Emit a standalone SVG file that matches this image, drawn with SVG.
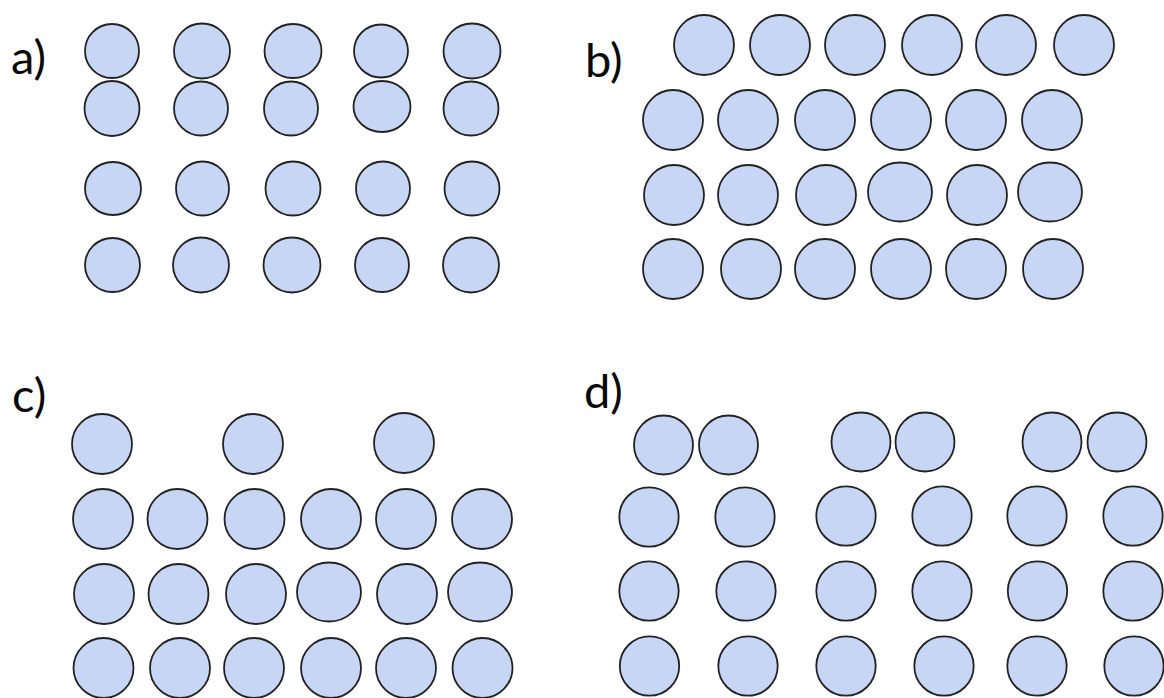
<svg xmlns="http://www.w3.org/2000/svg" width="1164" height="698" viewBox="0 0 1164 698">
<style>
.c{fill:#C8D6F6;stroke:#222;stroke-width:1.8}
.lbl{font-family:Lato,"Open Sans","Liberation Sans",sans-serif;font-size:47px;fill:#0a0a0a}
</style>
<rect width="1164" height="698" fill="#fff"/>
<g id="panel-a">
<text class="lbl" x="11" y="74">a)</text>
<ellipse class="c" cx="112" cy="51" rx="27" ry="27"/>
<ellipse class="c" cx="202" cy="51" rx="28" ry="27.5"/>
<ellipse class="c" cx="293" cy="51" rx="28.5" ry="27"/>
<ellipse class="c" cx="381" cy="51" rx="27" ry="26.5"/>
<ellipse class="c" cx="472" cy="51" rx="28.5" ry="27.5"/>
<ellipse class="c" cx="112" cy="108.5" rx="27.5" ry="27.5"/>
<ellipse class="c" cx="201" cy="108.5" rx="27" ry="27"/>
<ellipse class="c" cx="291" cy="108.5" rx="27" ry="27"/>
<ellipse class="c" cx="382" cy="106.5" rx="28.5" ry="25.5"/>
<ellipse class="c" cx="471" cy="108.5" rx="27.5" ry="27"/>
<ellipse class="c" cx="113" cy="188.5" rx="28" ry="26.5"/>
<ellipse class="c" cx="202.5" cy="188.5" rx="26.5" ry="27"/>
<ellipse class="c" cx="293" cy="188.5" rx="27.5" ry="27"/>
<ellipse class="c" cx="383" cy="188.5" rx="27" ry="27"/>
<ellipse class="c" cx="472" cy="188.5" rx="27.5" ry="27"/>
<ellipse class="c" cx="112.5" cy="265" rx="27.5" ry="27"/>
<ellipse class="c" cx="201" cy="265" rx="28" ry="27.5"/>
<ellipse class="c" cx="292" cy="265" rx="28.5" ry="27.5"/>
<ellipse class="c" cx="382" cy="265" rx="27" ry="27"/>
<ellipse class="c" cx="471" cy="265" rx="28" ry="27.5"/>
</g>
<g id="panel-b">
<text class="lbl" x="585" y="77">b)</text>
<circle class="c" cx="704" cy="45" r="30"/>
<circle class="c" cx="780" cy="45" r="30"/>
<circle class="c" cx="855" cy="45" r="30"/>
<circle class="c" cx="932" cy="45" r="30"/>
<circle class="c" cx="1006" cy="45" r="30"/>
<circle class="c" cx="1084" cy="45" r="30"/>
<circle class="c" cx="673" cy="120" r="30"/>
<circle class="c" cx="748" cy="120" r="30"/>
<circle class="c" cx="825" cy="120" r="30"/>
<circle class="c" cx="901" cy="120" r="30"/>
<circle class="c" cx="976" cy="120" r="30"/>
<circle class="c" cx="1052" cy="120" r="30"/>
<circle class="c" cx="674" cy="195" r="30"/>
<circle class="c" cx="748" cy="195" r="30"/>
<circle class="c" cx="826" cy="195" r="30"/>
<ellipse class="c" cx="900" cy="192" rx="32" ry="29.5"/>
<circle class="c" cx="977" cy="195" r="30"/>
<ellipse class="c" cx="1050" cy="192" rx="32" ry="29.5"/>
<circle class="c" cx="673" cy="269" r="30"/>
<circle class="c" cx="751" cy="269" r="30"/>
<circle class="c" cx="825" cy="269" r="30"/>
<circle class="c" cx="901" cy="269" r="30"/>
<circle class="c" cx="976" cy="269" r="30"/>
<circle class="c" cx="1053" cy="269" r="30"/>
</g>
<g id="panel-c">
<text class="lbl" x="12" y="412">c)</text>
<circle class="c" cx="102" cy="444" r="30"/>
<circle class="c" cx="253" cy="444" r="30"/>
<circle class="c" cx="404" cy="443" r="30"/>
<circle class="c" cx="103" cy="519" r="30"/>
<circle class="c" cx="177.5" cy="519" r="30"/>
<circle class="c" cx="254.5" cy="519" r="30"/>
<circle class="c" cx="331" cy="519" r="30"/>
<circle class="c" cx="406" cy="519" r="30"/>
<circle class="c" cx="482" cy="519" r="30"/>
<circle class="c" cx="104" cy="594" r="30"/>
<circle class="c" cx="178.5" cy="594" r="30"/>
<circle class="c" cx="256" cy="594" r="30"/>
<ellipse class="c" cx="329" cy="592" rx="32" ry="29.5"/>
<circle class="c" cx="407" cy="594" r="30"/>
<ellipse class="c" cx="480" cy="592" rx="32" ry="29.5"/>
<circle class="c" cx="103.5" cy="668" r="30"/>
<circle class="c" cx="180" cy="668" r="30"/>
<circle class="c" cx="254" cy="668" r="30"/>
<circle class="c" cx="331" cy="668" r="30"/>
<circle class="c" cx="406" cy="668" r="30"/>
<circle class="c" cx="482.5" cy="668" r="30"/>
</g>
<g id="panel-d">
<text class="lbl" x="584" y="408">d)</text>
<circle class="c" cx="663.5" cy="445" r="29.5"/>
<circle class="c" cx="728.5" cy="445" r="29.5"/>
<circle class="c" cx="861" cy="442" r="29.5"/>
<circle class="c" cx="925" cy="442" r="29.5"/>
<circle class="c" cx="1052" cy="442" r="29.5"/>
<circle class="c" cx="1117" cy="442" r="29.5"/>
<circle class="c" cx="649" cy="517" r="29.7"/>
<circle class="c" cx="745" cy="517" r="29.7"/>
<circle class="c" cx="846" cy="516" r="29.7"/>
<circle class="c" cx="942" cy="516" r="29.7"/>
<circle class="c" cx="1037" cy="516" r="29.7"/>
<circle class="c" cx="1133" cy="516" r="29.7"/>
<circle class="c" cx="649" cy="591" r="29.7"/>
<circle class="c" cx="746" cy="591" r="29.7"/>
<circle class="c" cx="846" cy="591" r="29.7"/>
<circle class="c" cx="942" cy="591" r="29.7"/>
<circle class="c" cx="1037.5" cy="591" r="29.7"/>
<circle class="c" cx="1133" cy="591" r="29.7"/>
<circle class="c" cx="649.5" cy="666" r="29.7"/>
<circle class="c" cx="748" cy="666" r="29.7"/>
<circle class="c" cx="846" cy="666" r="29.7"/>
<circle class="c" cx="944" cy="666" r="29.7"/>
<circle class="c" cx="1037" cy="666" r="29.7"/>
<circle class="c" cx="1134" cy="666" r="29.7"/>
</g>
</svg>
